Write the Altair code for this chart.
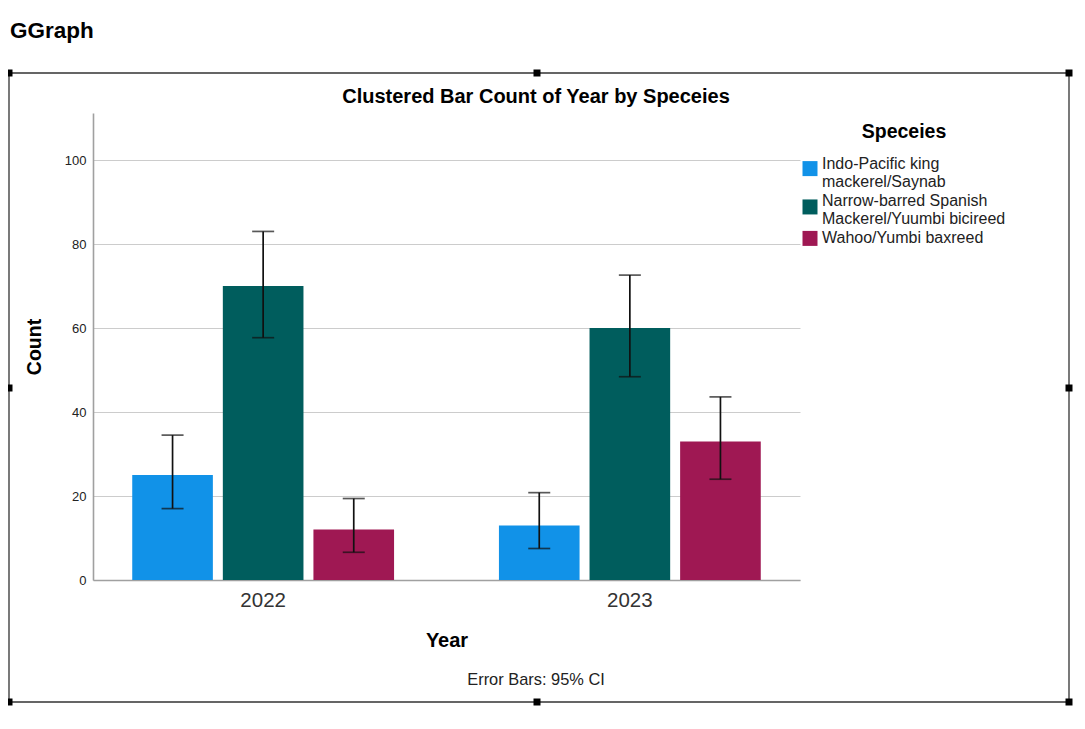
import json
import altair as alt
import pandas as pd

# ---------------- data ----------------
years = ["2022", "2023"]
species = [
    "Indo-Pacific king mackerel/Saynab",
    "Narrow-barred Spanish Mackerel/Yuumbi bicireed",
    "Wahoo/Yumbi baxreed",
]
legend_lines = [
    ["Indo-Pacific king", "mackerel/Saynab"],
    ["Narrow-barred Spanish", "Mackerel/Yuumbi bicireed"],
    ["Wahoo/Yumbi baxreed"],
]
colors = ["#1192e8", "#005d5d", "#9f1853"]

count_2022 = [25, 70, 12]
count_2023 = [13, 60, 33]
ci_lo_2022 = [17.0, 57.7, 6.6]
ci_hi_2022 = [34.5, 83.0, 19.4]
ci_lo_2023 = [7.5, 48.4, 24.0]
ci_hi_2023 = [20.8, 72.6, 43.6]
y_ticks = [0, 20, 40, 60, 80, 100]

chart_title = "Clustered Bar Count of Year by Speceies"
footnote = "Error Bars: 95% CI"
header = "GGraph"

rows = []
for yr, cs, lo, hi in [
    (years[0], count_2022, ci_lo_2022, ci_hi_2022),
    (years[1], count_2023, ci_lo_2023, ci_hi_2023),
]:
    for s, c, l, h in zip(species, cs, lo, hi):
        rows.append({"Year": yr, "Species": s, "Count": c, "lo": l, "hi": h})
df = pd.DataFrame(rows)
one = pd.DataFrame({"k": [0]})

FONT = "Liberation Sans"
W, H = 707, 467

label_expr = " : ".join(
    f"datum.label == {json.dumps(s)} ? {json.dumps(l)}" for s, l in zip(species, legend_lines)
) + " : datum.label"


# legend swatches: unit squares, nudged down so they sit beside the middle of
# their (possibly two-line) label
def swatch(shift):
    return f"M-1,{-1 + shift:.3f}H1V{1 + shift:.3f}H-1Z"


swatch_shapes = [swatch(0.68), swatch(0.86), swatch(0.12)]

x_enc = alt.X(
    "Year:N",
    sort=years,
    scale=alt.Scale(paddingInner=0.286, paddingOuter=0.107),
    axis=alt.Axis(
        title="Year",
        labelAngle=0,
        labelFontSize=20.5,
        labelColor="#333333",
        labelPadding=10,
        ticks=False,
        grid=False,
        domainColor="#a0a0a0",
        domainWidth=1.6,
        titleFontSize=20,
        titleFontWeight="bold",
        titleColor="#000000",
        titlePadding=20,
    ),
)
xo_enc = alt.XOffset(
    "Species:N", sort=species, scale=alt.Scale(paddingInner=0.11, paddingOuter=0)
)
y_scale = alt.Scale(domain=[0, 111.2], nice=False, zero=True)

legend = alt.Legend(
    orient="none",
    legendX=709,
    legendY=10,
    padding=0,
    title="Speceies",
    titleFontSize=19.5,
    titleFontWeight="bold",
    titleColor="#000000",
    titleAnchor="middle",
    titleAlign="center",
    titlePadding=13,
    symbolSize=225,
    symbolStrokeWidth=0,
    symbolOpacity=1,
    labelFontSize=16,
    labelOffset=4,
    labelLimit=0,
    labelColor="#222222",
    rowPadding=3,
    labelExpr=label_expr,
)
color_enc = alt.Color(
    "Species:N",
    sort=species,
    scale=alt.Scale(domain=species, range=colors),
    legend=legend,
)

bars = alt.Chart(df).mark_bar().encode(
    x=x_enc,
    xOffset=xo_enc,
    y=alt.Y(
        "Count:Q",
        scale=y_scale,
        axis=alt.Axis(
            values=y_ticks,
            title="Count",
            ticks=False,
            labelFontSize=13,
            labelColor="#222222",
            labelPadding=7,
            grid=True,
            gridColor="#cccccc",
            gridWidth=1,
            domainColor="#a0a0a0",
            domainWidth=1.6,
            titleFontSize=19.5,
            titleFontWeight="bold",
            titleColor="#000000",
            titlePadding=20,
        ),
    ),
    color=color_enc,
)

# invisible layer that only supplies the legend swatch shapes
swatch_layer = alt.Chart(df).mark_point(filled=True, opacity=0, size=1).encode(
    x=alt.X("Year:N", sort=years),
    xOffset=alt.XOffset("Species:N", sort=species),
    y=alt.Y("Count:Q", scale=y_scale),
    color=color_enc,
    shape=alt.Shape(
        "Species:N",
        sort=species,
        scale=alt.Scale(domain=species, range=swatch_shapes),
        legend=legend,
    ),
)

err_rule = alt.Chart(df).mark_rule(color="#111111", strokeWidth=1.7).encode(
    x=alt.X("Year:N", sort=years),
    xOffset=alt.XOffset("Species:N", sort=species),
    y=alt.Y("lo:Q", scale=y_scale),
    y2="hi:Q",
)
cap_lo = alt.Chart(df).mark_tick(color="#111111", thickness=1.7, size=22).encode(
    x=alt.X("Year:N", sort=years),
    xOffset=alt.XOffset("Species:N", sort=species),
    y=alt.Y("lo:Q", scale=y_scale),
)
cap_hi = alt.Chart(df).mark_tick(color="#111111", thickness=1.7, size=22).encode(
    x=alt.X("Year:N", sort=years),
    xOffset=alt.XOffset("Species:N", sort=species),
    y=alt.Y("hi:Q", scale=y_scale),
)

# ---------------- decorations (frame, handles, texts) ----------------
FL, FR, FT, FB = -84, 976, -40, 589
FMX, FMY = 444, 275
frame = alt.Chart(one).mark_rect(
    fillOpacity=0, stroke="#333333", strokeWidth=1.3
).encode(x=alt.value(FL), x2=alt.value(FR), y=alt.value(FT), y2=alt.value(FB))

handles = [
    alt.Chart(one).mark_square(size=49, color="#000000", opacity=1).encode(
        x=alt.value(hx), y=alt.value(hy)
    )
    for hx, hy in [
        (FL, FT), (FMX, FT), (FR, FT),
        (FL, FMY), (FR, FMY),
        (FL, FB), (FMX, FB), (FR, FB),
    ]
]

t_header = alt.Chart(one).mark_text(
    text=header, align="left", baseline="alphabetic", fontSize=22.5,
    fontWeight="bold", color="#000000", font=FONT,
).encode(x=alt.value(-83), y=alt.value(-75))
t_title = alt.Chart(one).mark_text(
    text=chart_title, align="center", baseline="alphabetic", fontSize=20,
    fontWeight="bold", color="#000000", font=FONT,
).encode(x=alt.value(443), y=alt.value(-10))
t_foot = alt.Chart(one).mark_text(
    text=footnote, align="center", baseline="alphabetic", fontSize=16.4,
    color="#222222", font=FONT,
).encode(x=alt.value(443), y=alt.value(572))

chart = (
    alt.layer(bars, swatch_layer, err_rule, cap_lo, cap_hi, frame, *handles,
              t_header, t_title, t_foot)
    .properties(
        width=W,
        height=H,
        autosize=alt.AutoSizeParams(type="none"),
        padding={"left": 85, "top": 105, "right": 276, "bottom": 135},
    )
    .configure(font=FONT)
    .configure_view(strokeWidth=0)
)

chart.save("out.html", embed_options={"renderer": "svg", "actions": False})
